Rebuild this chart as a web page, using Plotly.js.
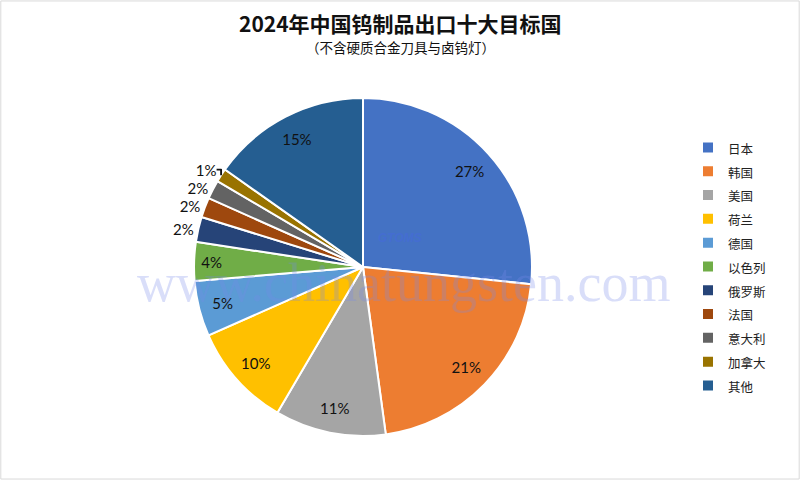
<!DOCTYPE html>
<html>
<head>
<meta charset="utf-8">
<script src="https://cdn.plot.ly/plotly-3.0.1.min.js"></script>
<style>html,body{margin:0;padding:0;background:#fff;}#chart{width:800px;height:480px;}</style>
</head>
<body>
<div id="chart"></div>
<script>
const countries = ['日本','韩国','美国','荷兰','德国','以色列','俄罗斯','法国','意大利','加拿大','其他'];
const shares = [26.6, 21.2, 10.6, 9.9, 5.3, 3.7, 2.4, 1.9, 1.8, 1.3, 15.2];
const colors = ['#4472C4','#ED7D31','#A5A5A5','#FFC000','#5B9BD5','#70AD47','#264478','#9E480E','#636363','#997300','#255E91'];
const outsideLabel = [false,false,false,false,false,false,true,true,true,true,false];
const titleText = '<b>2024年中国钨制品出口十大目标国</b>';
const subtitleText = '（不含硬质合金刀具与卤钨灯）';
const watermark = 'www.chinatungsten.com';
const logoText = '<i><b>GTOMS</b></i>';

const legendNames = countries.map(c => '<span style="font-size:12.5px">' + c + '</span>');
const pctFont = {family: 'Lato, "Liberation Sans", sans-serif', size: 15, color: '#111'};
const dom = {x: [0.2425, 0.665], y: [0.0917, 0.7958]};

// main pie: slices, legend, and the outside labels of the small slices
const mainTrace = {
  type: 'pie',
  labels: legendNames,
  values: shares,
  sort: false,
  direction: 'clockwise',
  rotation: 0,
  marker: {colors: colors, line: {color: '#ffffff', width: 2}},
  texttemplate: '%{percent:.0%}',
  textposition: outsideLabel.map(o => o ? 'outside' : 'none'),
  outsidetextfont: pctFont,
  domain: dom,
  hoverinfo: 'none'
};

// transparent ring used only to place the inside labels near the rim
const labelTrace = {
  type: 'pie',
  labels: legendNames,
  values: shares,
  sort: false,
  direction: 'clockwise',
  rotation: 0,
  hole: 0.7,
  showlegend: false,
  marker: {colors: countries.map(() => 'rgba(0,0,0,0)'), line: {width: 0}},
  texttemplate: '%{percent:.0%}',
  textposition: outsideLabel.map(o => o ? 'none' : 'inside'),
  insidetextorientation: 'horizontal',
  insidetextfont: pctFont,
  domain: dom,
  hoverinfo: 'none'
};

const layout = {
  width: 800, height: 480,
  margin: {l: 0, r: 0, t: 0, b: 0},
  paper_bgcolor: '#fff',
  showlegend: true,
  legend: {
    x: 0.86, y: 0.728, xanchor: 'left', yanchor: 'top',
    font: {family: '"Noto Sans CJK SC", sans-serif', size: 16, color: '#222'},
    bgcolor: 'rgba(0,0,0,0)',
    itemwidth: 30
  },
  annotations: [
    {text: watermark, x: 0.504, y: 0.41, xref: 'paper', yref: 'paper', yanchor: 'middle', showarrow: false,
     font: {family: '"Liberation Serif", "DejaVu Serif", serif', size: 54, color: 'rgba(120,135,235,0.28)'}},
    {text: logoText, x: 0.5, y: 0.505, xref: 'paper', yref: 'paper', yanchor: 'middle', showarrow: false,
     font: {family: '"Liberation Sans", sans-serif', size: 12, color: 'rgba(70,100,235,0.35)'}},
    {text: titleText, x: 0.5, y: 0.953, xref: 'paper', yref: 'paper', yanchor: 'middle', showarrow: false,
     font: {family: '"Noto Sans CJK SC", sans-serif', size: 21, color: '#111'}},
    {text: subtitleText, x: 0.5, y: 0.903, xref: 'paper', yref: 'paper', yanchor: 'middle', showarrow: false,
     font: {family: '"Noto Sans CJK SC", sans-serif', size: 13.5, color: '#111'}}
  ],
  shapes: [
    {type: 'rect', xref: 'paper', yref: 'paper', x0: 0.001, x1: 0.999, y0: 0.002, y1: 0.998,
     line: {color: '#d9d9d9', width: 1}}
  ]
};

Plotly.newPlot('chart', [mainTrace, labelTrace], layout, {displayModeBar: false, staticPlot: true});
</script>
</body>
</html>
